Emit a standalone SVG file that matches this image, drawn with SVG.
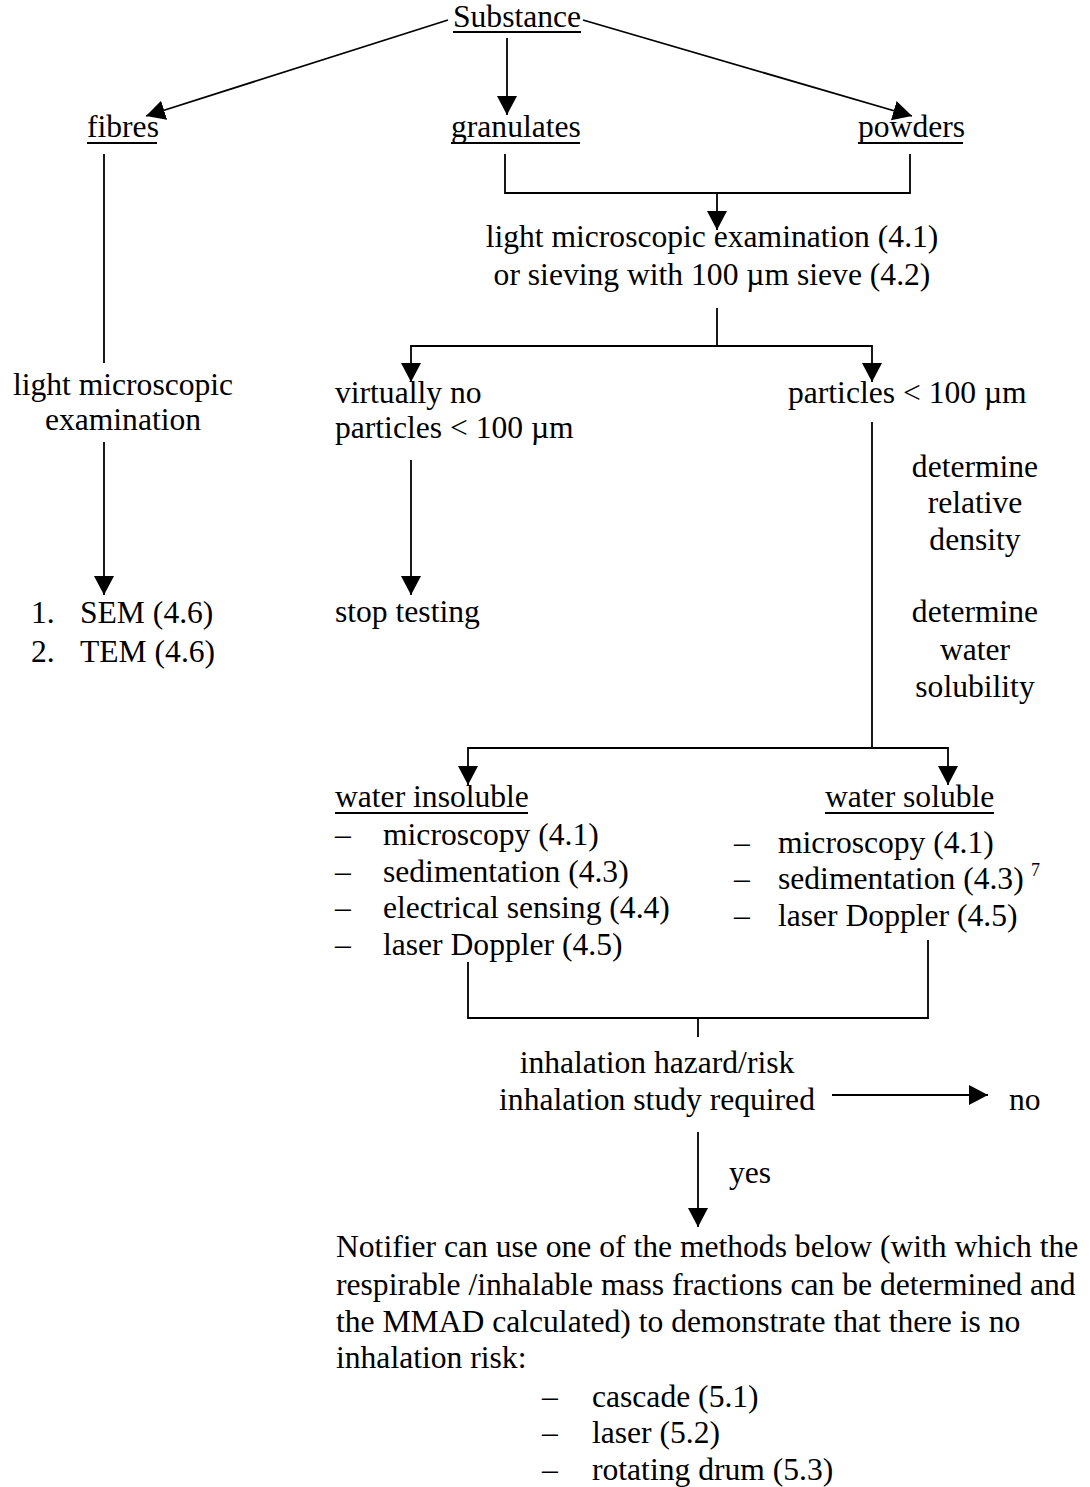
<svg xmlns="http://www.w3.org/2000/svg" width="1090" height="1487" viewBox="0 0 1090 1487">
<defs>
<style>
text { font-family: "Liberation Serif", "Times New Roman", serif; font-size: 31.6px; fill: #000; }
.m { text-anchor: middle; }
.sup { font-size: 18px; }
.ln { stroke: #000; stroke-width: 1.8; fill: none; }
.ul { stroke: #000; stroke-width: 2; }
.arr { marker-end: url(#ah); }
</style>
<marker id="ah" markerUnits="userSpaceOnUse" markerWidth="20" markerHeight="21" refX="19" refY="10" orient="auto">
<path d="M0,0 L19,10 L0,20 z" fill="#000"/>
</marker>
</defs>
<rect width="1090" height="1487" fill="#fff"/>

<g id="connectors">
<line class="ln arr" x1="448" y1="20" x2="146" y2="116"/>
<line class="ln arr" x1="583" y1="20" x2="912" y2="116"/>
<line class="ln arr" x1="507" y1="38" x2="507" y2="115"/>
<line class="ln" x1="104" y1="154" x2="104" y2="363"/>
<line class="ln arr" x1="104" y1="442" x2="104" y2="595"/>
<polyline class="ln" points="505,154 505,193 910,193 910,154"/>
<line class="ln arr" x1="717" y1="193" x2="717" y2="230"/>
<line class="ln" x1="717" y1="308" x2="717" y2="346"/>
<polyline class="ln arr" points="717,346 411,346 411,382"/>
<polyline class="ln arr" points="717,346 872,346 872,382"/>
<line class="ln arr" x1="411" y1="460" x2="411" y2="595"/>
<line class="ln" x1="872" y1="422" x2="872" y2="748"/>
<polyline class="ln arr" points="872,748 468,748 468,785"/>
<polyline class="ln arr" points="872,748 948,748 948,785"/>
<polyline class="ln" points="468,962 468,1018 928,1018 928,940"/>
<line class="ln" x1="698" y1="1018" x2="698" y2="1037"/>
<line class="ln arr" x1="832" y1="1095" x2="988" y2="1095"/>
<line class="ln arr" x1="698" y1="1132" x2="698" y2="1227"/>
</g>

<g id="substance">
<text x="453" y="27">Substance</text>
<line class="ul" x1="453" y1="32" x2="581" y2="32"/>
</g>
<g id="fibres">
<text x="87" y="137">fibres</text>
<line class="ul" x1="87" y1="143" x2="157" y2="143"/>
</g>
<g id="granulates">
<text x="451" y="137">granulates</text>
<line class="ul" x1="451" y1="143" x2="580" y2="143"/>
</g>
<g id="powders">
<text x="858" y="137">powders</text>
<line class="ul" x1="858" y1="143" x2="963" y2="143"/>
</g>
<g id="light-micro-fibres">
<text class="m" x="123" y="395">light microscopic</text>
<text class="m" x="123" y="430">examination</text>
</g>
<g id="sem-tem">
<text x="31" y="623">1.</text>
<text x="80" y="623">SEM (4.6)</text>
<text x="31" y="662">2.</text>
<text x="80" y="662">TEM (4.6)</text>
</g>
<g id="light-micro-sieve">
<text class="m" x="712" y="247">light microscopic examination (4.1)</text>
<text class="m" x="712" y="285">or sieving with 100 µm sieve (4.2)</text>
</g>
<g id="virtually-no">
<text x="335" y="403">virtually no</text>
<text x="335" y="438">particles &lt; 100 µm</text>
</g>
<g id="stop-testing">
<text x="335" y="622">stop testing</text>
</g>
<g id="particles">
<text x="788" y="403">particles &lt; 100 µm</text>
</g>
<g id="determine-density">
<text class="m" x="975" y="477">determine</text>
<text class="m" x="975" y="513">relative</text>
<text class="m" x="975" y="550">density</text>
</g>
<g id="determine-solubility">
<text class="m" x="975" y="622">determine</text>
<text class="m" x="975" y="660">water</text>
<text class="m" x="975" y="697">solubility</text>
</g>
<g id="water-insoluble">
<text x="335" y="807">water insoluble</text>
<line class="ul" x1="335" y1="813" x2="528" y2="813"/>
<text x="335" y="845">–</text><text x="383" y="845">microscopy (4.1)</text>
<text x="335" y="882">–</text><text x="383" y="882">sedimentation (4.3)</text>
<text x="335" y="918">–</text><text x="383" y="918">electrical sensing (4.4)</text>
<text x="335" y="955">–</text><text x="383" y="955">laser Doppler (4.5)</text>
</g>
<g id="water-soluble">
<text x="825" y="807">water soluble</text>
<line class="ul" x1="825" y1="813" x2="994" y2="813"/>
<text x="734" y="853">–</text><text x="778" y="853">microscopy (4.1)</text>
<text x="734" y="889">–</text><text x="778" y="889">sedimentation (4.3)</text>
<text class="sup" x="1031" y="876">7</text>
<text x="734" y="926">–</text><text x="778" y="926">laser Doppler (4.5)</text>
</g>
<g id="inhalation">
<text class="m" x="657" y="1073">inhalation hazard/risk</text>
<text class="m" x="657" y="1110">inhalation study required</text>
</g>
<g id="no">
<text x="1009" y="1110">no</text>
</g>
<g id="yes-label">
<text x="729" y="1183">yes</text>
</g>
<g id="notifier">
<text x="336" y="1257">Notifier can use one of the methods below (with which the</text>
<text x="336" y="1295">respirable /inhalable mass fractions can be determined and</text>
<text x="336" y="1332">the MMAD calculated) to demonstrate that there is no</text>
<text x="336" y="1368">inhalation risk:</text>
<text x="542" y="1407">–</text><text x="592" y="1407">cascade (5.1)</text>
<text x="542" y="1443">–</text><text x="592" y="1443">laser (5.2)</text>
<text x="542" y="1480">–</text><text x="592" y="1480">rotating drum (5.3)</text>
</g>
</svg>
